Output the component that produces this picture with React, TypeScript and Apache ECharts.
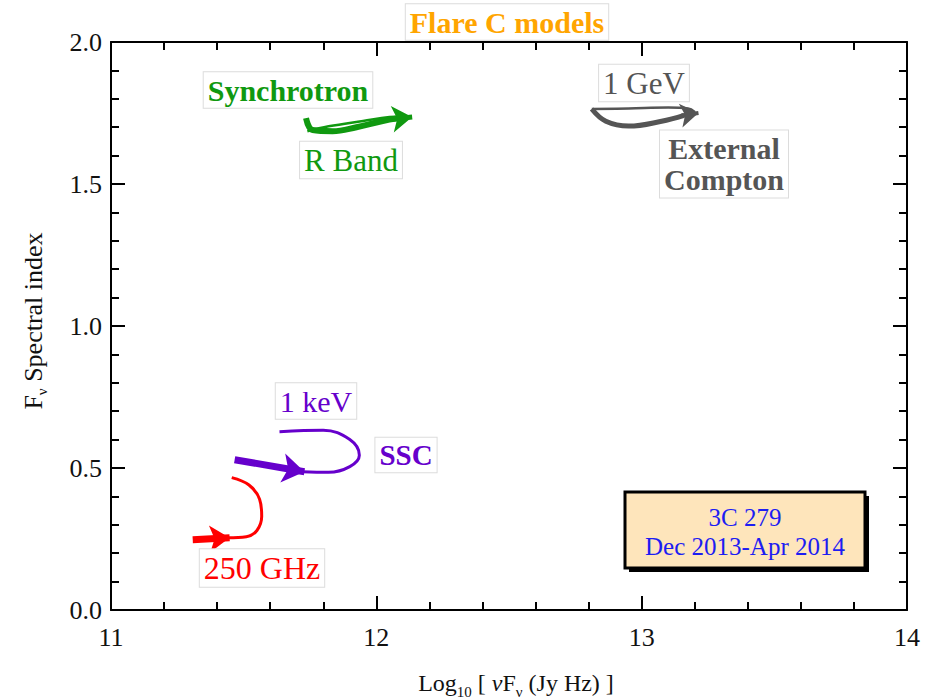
import React, { useEffect, useRef } from "react";
import * as echarts from "echarts";

// ---- data ----
const xTicks = [11, 12, 13, 14];
const yTicks = [0.0, 0.5, 1.0, 1.5, 2.0];

// Synchrotron (R band)
const syncMain = [[11.735, 1.732], [11.76, 1.69], [11.835, 1.686], [11.925, 1.7], [12.02, 1.721], [12.085, 1.732]];
const syncLoop = [[11.74, 1.686], [11.82, 1.703], [11.95, 1.722], [12.05, 1.736], [12.1, 1.738]];
const syncArrow = [[12.06, 1.728], [12.135, 1.736]];

// External Compton (1 GeV)
const ecMain = [[12.812, 1.764], [12.865, 1.721], [12.951, 1.704], [13.075, 1.721], [13.16, 1.742]];
const ecLoop = [[12.812, 1.764], [12.951, 1.766], [13.1, 1.769], [13.175, 1.766], [13.2, 1.754]];
const ecArrow = [[13.15, 1.741], [13.214, 1.75]];

// SSC (1 keV)
const sscArrow = [[11.466, 0.529], [11.729, 0.487]];
const sscLoop = [[11.72, 0.487], [11.82, 0.485], [11.9, 0.505], [11.936, 0.545], [11.9, 0.6], [11.8, 0.633], [11.635, 0.628]];

// 250 GHz
const redArrow = [[11.308, 0.247], [11.447, 0.254]];
const redLoop = [[11.44, 0.254], [11.51, 0.258], [11.55, 0.28], [11.568, 0.33], [11.56, 0.39], [11.52, 0.44], [11.455, 0.466]];

const GREEN = "#109910";
const GRAY = "#555555";
const PURPLE = "#6600cc";
const RED = "#ff0000";
const FONT = "'Liberation Serif', 'DejaVu Serif', serif";

function loopSeries(data: number[][], color: string, width: number) {
  return {
    type: "line",
    data,
    smooth: 0.4,
    showSymbol: false,
    symbol: "none",
    lineStyle: { color, width },
    silent: true,
    z: 3,
  };
}

function arrowSeries(coords: number[][], color: string, width: number, size: number) {
  return {
    type: "lines",
    coordinateSystem: "cartesian2d",
    polyline: false,
    symbol: ["none", "arrow"],
    symbolSize: size,
    lineStyle: { color, width, opacity: 1, curveness: 0 },
    data: [{ coords }],
    silent: true,
    z: 4,
  };
}

function label(text: string, x: number, y: number, color: string, size: number, bold: boolean) {
  return {
    type: "text",
    x,
    y,
    z: 10,
    style: {
      text,
      align: "center",
      verticalAlign: "middle",
      fill: color,
      fontFamily: FONT,
      fontSize: size,
      fontWeight: bold ? "bold" : "normal",
      lineHeight: size * 1.05,
      backgroundColor: "#ffffff",
      borderColor: "#dcdcdc",
      borderWidth: 1,
      padding: [2, 4, 2, 4],
    },
  };
}

const axisCommon = {
  axisLine: { show: true, onZero: false, lineStyle: { color: "#000", width: 2 } },
  axisTick: { show: true, inside: true, length: 14, lineStyle: { color: "#000", width: 2 } },
  minorTick: { show: true, splitNumber: 5, length: 8, lineStyle: { color: "#000", width: 2 } },
  splitLine: { show: false },
  minorSplitLine: { show: false },
};

const tickRich = { t: { fontFamily: FONT, fontSize: 26, color: "#111" } };

export default function App() {
  const ref = useRef<HTMLDivElement>(null);
  useEffect(() => {
    if (!ref.current) return;
    const chart = echarts.init(ref.current, undefined, { renderer: "svg" });
    const richBase = {
      a: { fontFamily: FONT, fontSize: 24, color: "#111", lineHeight: 32 },
      g: { fontFamily: FONT, fontSize: 24, color: "#111", lineHeight: 32, fontStyle: "italic" },
      s: { fontFamily: FONT, fontSize: 15, color: "#111", lineHeight: 14, verticalAlign: "bottom" },
    };
    chart.setOption({
      animation: false,
      backgroundColor: "#ffffff",
      textStyle: { fontFamily: FONT },
      grid: { left: 111, right: 27, top: 42, bottom: 88, containLabel: false, outerBoundsMode: "none" },
      xAxis: [
        {
          type: "value",
          min: xTicks[0],
          max: xTicks[xTicks.length - 1],
          interval: 1,
          position: "bottom",
          ...axisCommon,
          axisLabel: {
            show: true,
            margin: 14,
            fontFamily: FONT,
            fontSize: 26,
            color: "#111",
            rich: tickRich,
            formatter: (v: number) => (xTicks.includes(v) ? "{t|" + String(v) + "}" : ""),
          },
          name: "{a|Log}{s|10}{a| [ }{g|ν}{a|F}{s|ν}{a| (Jy Hz) ]}",
          nameLocation: "middle",
          nameGap: 57,
          nameTextStyle: { rich: richBase, padding: [0, 0, 0, 14] },
        },
        {
          type: "value",
          min: xTicks[0],
          max: xTicks[xTicks.length - 1],
          interval: 1,
          position: "top",
          ...axisCommon,
          axisLabel: { show: false },
        },
      ],
      yAxis: [
        {
          type: "value",
          min: yTicks[0],
          max: yTicks[yTicks.length - 1],
          interval: 0.5,
          position: "left",
          ...axisCommon,
          axisLabel: {
            show: true,
            margin: 9,
            fontFamily: FONT,
            fontSize: 26,
            color: "#111",
            rich: tickRich,
            formatter: (v: number) => "{t|" + v.toFixed(1) + "}",
          },
          name: "{a|F}{s|ν}{a| Spectral index}",
          nameLocation: "middle",
          nameGap: 62,
          nameTextStyle: { rich: { ...richBase, a: { ...richBase.a, fontSize: 26 } }, padding: [0, 0, 0, 10] },
        },
        {
          type: "value",
          min: yTicks[0],
          max: yTicks[yTicks.length - 1],
          interval: 0.5,
          position: "right",
          ...axisCommon,
          axisLabel: { show: false },
        },
      ],
      series: [
        loopSeries(syncMain, GREEN, 6),
        loopSeries(syncLoop, GREEN, 2.5),
        arrowSeries(syncArrow, GREEN, 5, 20),
        loopSeries(ecMain, GRAY, 5),
        loopSeries(ecLoop, GRAY, 2.5),
        arrowSeries(ecArrow, GRAY, 4, 18),
        arrowSeries(sscArrow, PURPLE, 7, 22),
        loopSeries(sscLoop, PURPLE, 3),
        arrowSeries(redArrow, RED, 7, 20),
        loopSeries(redLoop, RED, 3),
      ],
      graphic: [
        label("Flare C models", 507, 22, "#ffa500", 30, true),
        label("Synchrotron", 288, 90, GREEN, 30, true),
        label("R Band", 351, 160, GREEN, 31, false),
        label("1 GeV", 644, 83, GRAY, 31, false),
        label("External\nCompton", 724, 164, GRAY, 30, true),
        label("1 keV", 316, 401, PURPLE, 30, false),
        label("SSC", 406, 455, PURPLE, 29, true),
        label("250 GHz", 262, 568, RED, 32, false),
        { type: "rect", z: 9, shape: { x: 629, y: 496, width: 240, height: 76 }, style: { fill: "#000" } },
        {
          type: "rect",
          z: 10,
          shape: { x: 625, y: 492, width: 240, height: 76 },
          style: { fill: "#fee5bb", stroke: "#000", lineWidth: 3 },
        },
        {
          type: "text",
          z: 11,
          x: 745,
          y: 532,
          style: {
            text: "3C 279\nDec 2013-Apr 2014",
            align: "center",
            verticalAlign: "middle",
            fill: "#1d1df2",
            fontFamily: FONT,
            fontSize: 25,
            lineHeight: 29,
          },
        },
      ],
    });
    return () => chart.dispose();
  }, []);
  return (
    <div
      ref={ref}
      style={{ position: "absolute", left: 0, top: 0, width: 934, height: 698 }}
    />
  );
}
